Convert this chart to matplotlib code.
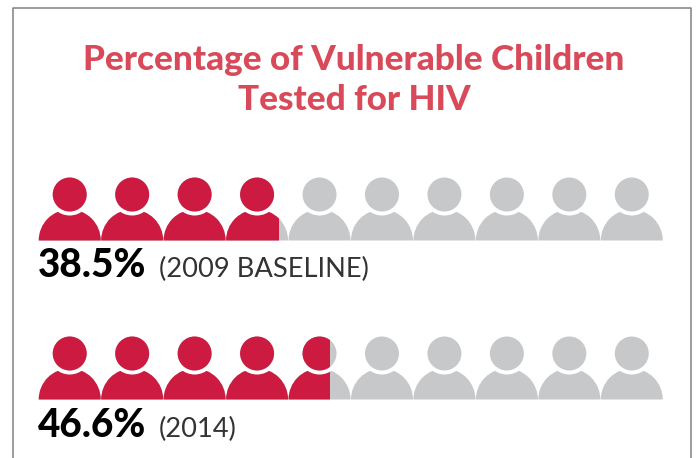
import matplotlib
matplotlib.use("Agg")
import matplotlib.pyplot as plt
from matplotlib.patches import Circle, Wedge, Rectangle

# Values
title_lines = ["Percentage of Vulnerable Children", "Tested for HIV"]
percents = [38.5, 46.6]
value_labels = ["38.5%", "46.6%"]
period_labels = ["(2009 BASELINE)", "(2014)"]
icon_count = 10

RED = "#cc1a40"
GRAY = "#c7c8ca"
TITLE_RED = "#d84a59"

# Layout in pixels of the 700x458 picture
left = 38.5
pitch = 62.45
base_ys = [240.5, 399.5]
label_ys = [277, 437]

fig = plt.figure(figsize=(7, 4.58), dpi=100)
ax = fig.add_axes([0, 0, 1, 1])
ax.set_xlim(0, 700)
ax.set_ylim(458, 0)
ax.axis("off")

# Outer frame, open at the bottom
ax.plot([12.5, 12.5, 691, 691], [458, 8, 8, 458], color="#808080", lw=1.1)

ax.text(354, 60, title_lines[0], color=TITLE_RED, fontsize=25.3, family="Lato",
        weight="black", ha="center", va="center")
ax.text(354, 100, title_lines[1], color=TITLE_RED, fontsize=25.3, family="Lato",
        weight="black", ha="center", va="center")


def draw_row(percent, base_y):
    """Draw one row of people, red up to the given percentage."""
    split_x = left + percent / 100 * icon_count * pitch
    clip = Rectangle((0, 0), split_x, 458, transform=ax.transData)
    for i in range(icon_count):
        cx = left + pitch * (i + 0.5)
        ax.add_patch(Wedge((cx, base_y), 31, 180, 360, color=GRAY, lw=0))
        red_body = Wedge((cx, base_y), 31, 180, 360, color=RED, lw=0)
        ax.add_patch(red_body)
        red_body.set_clip_path(clip)
        # white ring separates the head from the shoulders
        ax.add_patch(Circle((cx, base_y - 46), 21, color="white", lw=0))
        ax.add_patch(Circle((cx, base_y - 46), 17, color=GRAY, lw=0))
        red_head = Circle((cx, base_y - 46), 17, color=RED, lw=0)
        ax.add_patch(red_head)
        red_head.set_clip_path(clip)


for percent, base_y in zip(percents, base_ys):
    draw_row(percent, base_y)

for value, period, label_y in zip(value_labels, period_labels, label_ys):
    ax.text(38, label_y, value, color="black", fontsize=27.8, family="Lato",
            weight="black", ha="left", va="baseline")
    ax.text(159, label_y, period, color="#333333", fontsize=19.6, family="Lato",
            weight="normal", ha="left", va="baseline")

fig.savefig("out.png", dpi=100, facecolor="white")
